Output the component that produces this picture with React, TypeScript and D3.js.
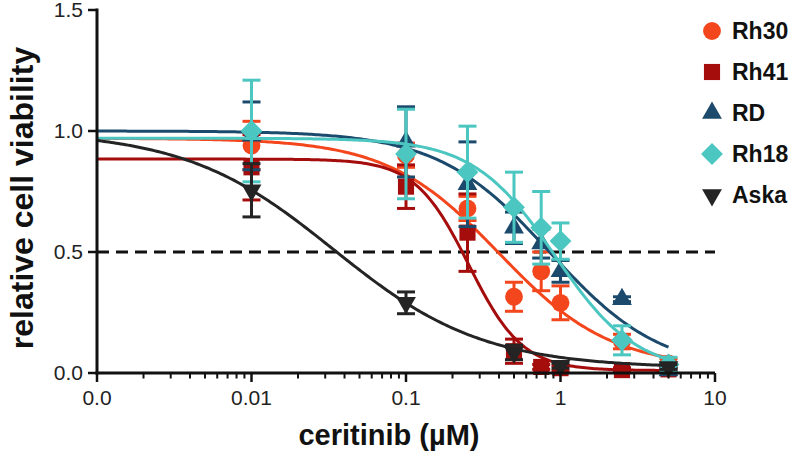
import * as d3 from "d3";

// doses in µM
const doses = [0.01, 0.1, 0.25, 0.5, 0.75, 1, 2.5, 5];
const askaDoses = [0.01, 0.1, 0.5, 1, 5];

const rh30Mean = [0.94, 0.9, 0.68, 0.315, 0.42, 0.29, 0.13, 0.04];
const rh30Sd = [0.1, 0.05, 0.05, 0.06, 0.08, 0.07, 0.03, 0.02];
const rh41Mean = [0.85, 0.77, 0.58, 0.09, 0.025, 0.02, 0.012, 0.015];
const rh41Sd = [0.135, 0.09, 0.16, 0.05, 0.01, 0.01, 0.01, 0.01];
const rdMean = [0.98, 0.955, 0.78, 0.6, 0.535, 0.42, 0.305, 0.01];
const rdSd = [0.14, 0.145, 0.175, 0.065, 0.06, 0.045, 0.01, 0.01];
const rh18Mean = [1.0, 0.905, 0.83, 0.685, 0.6, 0.545, 0.135, 0.035];
const rh18Sd = [0.21, 0.185, 0.19, 0.145, 0.15, 0.075, 0.06, 0.03];
const askaMean = [0.755, 0.29, 0.085, 0.03, 0.025];
const askaSd = [0.11, 0.045, 0.03, 0.01, 0.01];

// fitted dose-response parameters: top, bottom, IC50 (µM), hill slope
const seriesNames = ["Rh30", "Rh41", "RD", "Rh18", "Aska"];
const fitTop = [0.97, 0.884, 1.0, 0.97, 1.0];
const fitBottom = [0.02, 0.01, 0.0, 0.0, 0.02];
const fitIc50 = [0.4, 0.255, 0.85, 0.92, 0.034];
const fitHill = [1.2, 2.5, 1.2, 1.65, 0.9];

const colors = ["#f4461d", "#a50d0d", "#1c4a6c", "#4cc6c0", "#242424"];
const shapes = ["circle", "square", "triangle", "diamond", "down"];

const yTicks = [0, 0.5, 1, 1.5];
const yTickLabels = ["0.0", "0.5", "1.0", "1.5"];
const xTicks = [0.001, 0.01, 0.1, 1, 10];
const xTickLabels = ["0.0", "0.01", "0.1", "1", "10"];

const W = 799, H = 458;
const font = "'Liberation Sans', Arial, Helvetica, sans-serif";

const x = d3.scaleLog().domain([0.001, 10]).range([97, 715]);
const y = d3.scaleLinear().domain([0, 1.5]).range([373, 10]);

const seriesData = [
  { doses, mean: rh30Mean, sd: rh30Sd },
  { doses, mean: rh41Mean, sd: rh41Sd },
  { doses, mean: rdMean, sd: rdSd },
  { doses, mean: rh18Mean, sd: rh18Sd },
  { doses: askaDoses, mean: askaMean, sd: askaSd },
];

function symbolPath(shape: string) {
  if (shape === "circle") return d3.symbol(d3.symbolCircle, 250)()!;
  if (shape === "square") return d3.symbol(d3.symbolSquare, 260)()!;
  if (shape === "diamond") return d3.symbol(d3.symbolSquare, 240)()!;
  return d3.symbol(d3.symbolTriangle, 170)()!;
}

function symbolRotate(shape: string) {
  if (shape === "diamond") return 45;
  if (shape === "down") return 180;
  return 0;
}

function fitCurve(i: number) {
  const xs = d3.range(0, 241).map((k) => 0.001 * Math.pow(5000, k / 240));
  const pts = xs.map((c) => [
    x(c),
    y(fitBottom[i] + (fitTop[i] - fitBottom[i]) / (1 + Math.pow(c / fitIc50[i], fitHill[i]))),
  ] as [number, number]);
  return d3.line()(pts)!;
}

// log minor ticks 2..9 in each decade
const minorTicks: number[] = [];
[0.001, 0.01, 0.1, 1].forEach((d) => {
  for (let k = 2; k <= 9; k++) minorTicks.push(d * k);
});

export default function App() {
  const legendY = [31, 72, 113, 154, 195];
  return (
    <svg
      width={W}
      height={H}
      style={{ position: "absolute", left: 0, top: 0, background: "#fff" }}
      fontFamily={font}
    >
      {/* 50% line */}
      <line
        x1={x(0.001)}
        x2={x(10)}
        y1={y(0.5)}
        y2={y(0.5)}
        stroke="#111"
        strokeWidth={3}
        strokeDasharray="12 7"
      />

      {seriesData.map((s, i) => (
        <g key={seriesNames[i]}>
          <path d={fitCurve(i)} fill="none" stroke={colors[i]} strokeWidth={3} />
          {s.doses.map((d, j) => {
            const cx = x(d);
            const top = y(s.mean[j] + s.sd[j]);
            const bot = y(Math.max(0, s.mean[j] - s.sd[j]));
            return (
              <g key={j} stroke={colors[i]} strokeWidth={3}>
                <line x1={cx} x2={cx} y1={top} y2={bot} />
                <line x1={cx - 9} x2={cx + 9} y1={top} y2={top} />
                <line x1={cx - 9} x2={cx + 9} y1={bot} y2={bot} />
              </g>
            );
          })}
          {s.doses.map((d, j) => (
            <path
              key={"m" + j}
              d={symbolPath(shapes[i])}
              fill={colors[i]}
              transform={`translate(${x(d)},${y(s.mean[j])}) rotate(${symbolRotate(shapes[i])})`}
            />
          ))}
        </g>
      ))}

      {/* axes */}
      <g stroke="#111">
        <line x1={x(0.001)} x2={x(0.001)} y1={y(1.5) - 1.5} y2={y(0) + 1.5} strokeWidth={3} />
        <line x1={x(0.001) - 1.5} x2={x(10)} y1={y(0)} y2={y(0)} strokeWidth={3} />
        {yTicks.map((t) => (
          <line key={t} x1={x(0.001) - 9} x2={x(0.001)} y1={y(t)} y2={y(t)} strokeWidth={2.5} />
        ))}
        {xTicks.map((t) => (
          <line key={t} x1={x(t)} x2={x(t)} y1={y(0)} y2={y(0) + 9} strokeWidth={2.5} />
        ))}
        {minorTicks.map((t) => (
          <line key={t} x1={x(t)} x2={x(t)} y1={y(0)} y2={y(0) + 5.5} strokeWidth={2} />
        ))}
      </g>

      {yTicks.map((t, i) => (
        <text
          key={t}
          x={x(0.001) - 14}
          y={y(t)}
          dy="0.35em"
          textAnchor="end"
          fontSize={21}
          fill="#222"
        >
          {yTickLabels[i]}
        </text>
      ))}
      {xTicks.map((t, i) => (
        <text key={t} x={x(t)} y={405} textAnchor="middle" fontSize={21} fill="#222">
          {xTickLabels[i]}
        </text>
      ))}

      <text x={389} y={445} textAnchor="middle" fontSize={29} fontWeight="bold" fill="#111">
        ceritinib (µM)
      </text>
      <text
        transform="translate(33,198) rotate(-90)"
        textAnchor="middle"
        fontSize={32}
        fontWeight="bold"
        fill="#111"
      >
        relative cell viability
      </text>

      {/* legend */}
      {seriesNames.map((name, i) => (
        <g key={name}>
          <path
            d={symbolPath(shapes[i])}
            fill={colors[i]}
            transform={`translate(712,${legendY[i]}) rotate(${symbolRotate(shapes[i])})`}
          />
          <text x={732} y={legendY[i]} dy="0.36em" fontSize={23} fontWeight="bold" fill="#111">
            {name}
          </text>
        </g>
      ))}
    </svg>
  );
}
